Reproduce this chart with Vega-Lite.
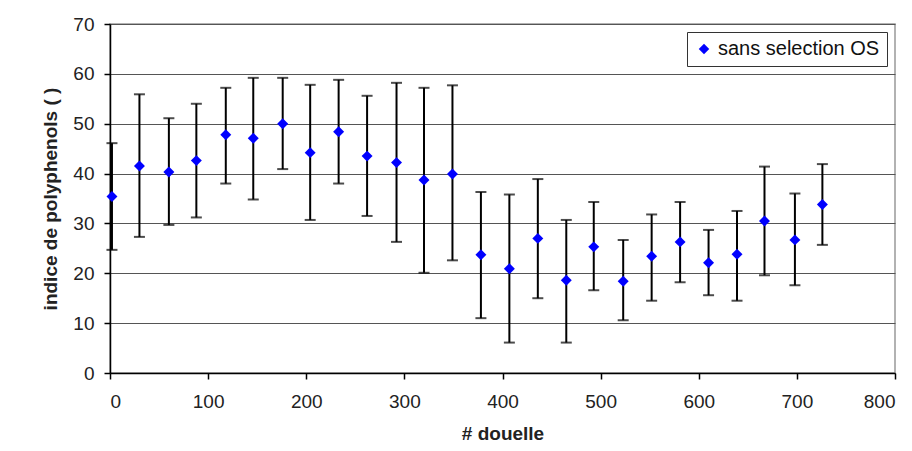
{
  "$schema": "https://vega.github.io/schema/vega-lite/v6.json",
  "autosize": {"type": "none"},
  "width": 785,
  "height": 349,
  "padding": {"left": 110, "top": 24, "right": 17, "bottom": 78},
  "background": "white",
  "config": {
    "font": "Liberation Sans",
    "view": {"stroke": "#999999", "strokeWidth": 1.5},
    "axis": {
      "labelFont": "Liberation Sans",
      "titleFont": "Liberation Sans",
      "labelFontSize": 19,
      "titleFontSize": 19,
      "labelColor": "#222222",
      "titleColor": "#222222",
      "titleFontWeight": "bold",
      "domainColor": "#000000",
      "domainWidth": 1.5,
      "tickColor": "#000000",
      "tickSize": 6,
      "tickWidth": 1.5
    }
  },
  "data": {
    "values": [
      {"x": 2, "y": 35.4, "lo": 24.7, "hi": 46.1},
      {"x": 30, "y": 41.5, "lo": 27.3, "hi": 55.9},
      {"x": 60, "y": 40.3, "lo": 29.7, "hi": 51.1},
      {"x": 88, "y": 42.6, "lo": 31.2, "hi": 54.0},
      {"x": 118, "y": 47.8, "lo": 38.0, "hi": 57.2},
      {"x": 146, "y": 47.1, "lo": 34.8, "hi": 59.2},
      {"x": 176, "y": 50.0, "lo": 40.9, "hi": 59.2},
      {"x": 204, "y": 44.2, "lo": 30.7, "hi": 57.8},
      {"x": 233, "y": 48.4, "lo": 38.0, "hi": 58.8},
      {"x": 262, "y": 43.5, "lo": 31.5, "hi": 55.6},
      {"x": 292, "y": 42.2, "lo": 26.3, "hi": 58.2},
      {"x": 320, "y": 38.7, "lo": 20.1, "hi": 57.2},
      {"x": 349, "y": 39.9, "lo": 22.6, "hi": 57.7},
      {"x": 378, "y": 23.7, "lo": 11.0, "hi": 36.3},
      {"x": 407, "y": 20.9, "lo": 6.1, "hi": 35.8},
      {"x": 436, "y": 27.0, "lo": 15.0, "hi": 38.9},
      {"x": 465, "y": 18.6, "lo": 6.1, "hi": 30.7},
      {"x": 493, "y": 25.3, "lo": 16.6, "hi": 34.3},
      {"x": 523, "y": 18.4, "lo": 10.6, "hi": 26.7},
      {"x": 552, "y": 23.4, "lo": 14.5, "hi": 31.8},
      {"x": 581, "y": 26.3, "lo": 18.2, "hi": 34.3},
      {"x": 610, "y": 22.1, "lo": 15.6, "hi": 28.7},
      {"x": 639, "y": 23.8, "lo": 14.5, "hi": 32.5},
      {"x": 667, "y": 30.5, "lo": 19.6, "hi": 41.4},
      {"x": 698, "y": 26.7, "lo": 17.6, "hi": 36.0},
      {"x": 726, "y": 33.8, "lo": 25.7, "hi": 41.9}
    ]
  },
  "encoding": {
    "x": {
      "field": "x",
      "type": "quantitative",
      "scale": {"domain": [0, 800], "nice": false, "zero": false},
      "axis": {
        "title": "# douelle",
        "values": [0, 100, 200, 300, 400, 500, 600, 700, 800],
        "grid": false,
        "labelPadding": 13,
        "titlePadding": 13
      }
    }
  },
  "layer": [
    {
      "mark": {"type": "rule", "color": "#000000", "strokeWidth": 2},
      "encoding": {
        "y": {
          "field": "lo",
          "type": "quantitative",
          "scale": {"domain": [0, 70], "nice": false},
          "axis": {
            "title": "indice de polyphenols ( )",
            "values": [0, 10, 20, 30, 40, 50, 60, 70],
            "grid": true,
            "gridColor": "#555555",
            "gridWidth": 1.2,
            "labelPadding": 10,
            "titlePadding": 12
          }
        },
        "y2": {"field": "hi"}
      }
    },
    {
      "mark": {"type": "tick", "orient": "horizontal", "color": "#000000", "size": 11, "thickness": 2},
      "encoding": {"y": {"field": "lo", "type": "quantitative"}}
    },
    {
      "mark": {"type": "tick", "orient": "horizontal", "color": "#000000", "size": 11, "thickness": 2},
      "encoding": {"y": {"field": "hi", "type": "quantitative"}}
    },
    {
      "mark": {"type": "point", "shape": "diamond", "filled": true, "size": 120, "opacity": 1},
      "encoding": {
        "y": {"field": "y", "type": "quantitative"},
        "color": {
          "datum": "sans selection OS",
          "type": "nominal",
          "scale": {"range": ["#0000ff"]},
          "legend": {
            "title": null,
            "orient": "top-right",
            "offset": 8,
            "strokeColor": "#333333",
            "fillColor": "white",
            "padding": 7,
            "labelFontSize": 20,
            "labelLimit": 400,
            "labelFont": "Liberation Sans",
            "labelColor": "#111111",
            "symbolType": "diamond",
            "symbolSize": 110,
            "labelOffset": 4
          }
        }
      }
    }
  ]
}
